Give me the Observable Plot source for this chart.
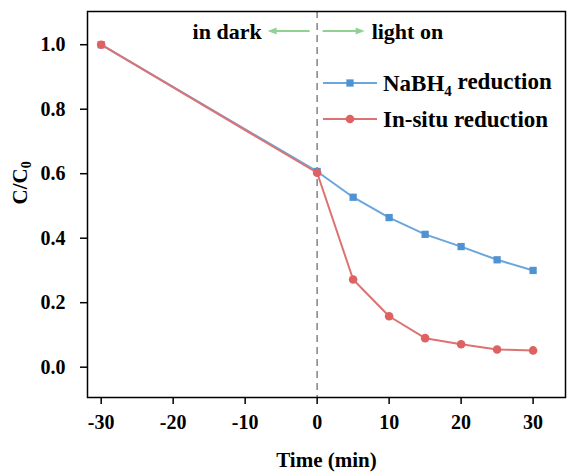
<!DOCTYPE html>
<html>
<head>
<meta charset="utf-8">
<script src="https://cdn.jsdelivr.net/npm/d3@7"></script>
<script src="https://cdn.jsdelivr.net/npm/@observablehq/plot@0.6"></script>
<style>
  html, body { margin: 0; padding: 0; background: #fff; }
  #chart { width: 568px; height: 473px; }
</style>
</head>
<body>
<div id="chart"></div>
<script>
// ---- data ----
const time = [-30, 0, 5, 10, 15, 20, 25, 30];
const nabh4 = [1.0, 0.607, 0.527, 0.464, 0.412, 0.374, 0.333, 0.300];
const insitu = [1.0, 0.603, 0.272, 0.158, 0.090, 0.071, 0.055, 0.052];
const seriesNames = ["NaBH4 reduction", "In-situ reduction"];
const xTicks = [-30, -20, -10, 0, 10, 20, 30];
const yTicks = [0.0, 0.2, 0.4, 0.6, 0.8, 1.0];
const lightSwitch = [0];

const blue = "#4f93d2", blueLine = "#6ba6db";
const red = "#de6262", redLine = "#dc7373";
const green = "#92d192";
const serif = "'Liberation Serif', 'Times New Roman', serif";

const rowsA = time.map((t, i) => ({t, v: nabh4[i]}));
const rowsB = time.map((t, i) => ({t, v: insitu[i]}));

const plot = Plot.plot({
  width: 568, height: 473,
  marginLeft: 87, marginRight: 3, marginTop: 11, marginBottom: 76,
  style: {fontFamily: serif, fontWeight: "bold", fontSize: "20px", background: "#fff", color: "#000"},
  x: {domain: [-31.9, 34.5]},
  y: {domain: [-0.094, 1.103]},
  marks: [
    Plot.ruleX(lightSwitch, {stroke: "#8a8a8a", strokeWidth: 1.6, strokeDasharray: "7,5"}),
    Plot.frame({stroke: "#000", strokeWidth: 1.5}),
    Plot.axisX({ticks: xTicks, tickSize: 7, tickPadding: 10, tickFormat: d => String(d), label: null, fontSize: 20, strokeWidth: 1.5}),
    Plot.axisY({ticks: yTicks, tickSize: 7, tickPadding: 15, tickFormat: d3.format(".1f"), label: null, fontSize: 20, strokeWidth: 1.5}),
    Plot.text(["Time (min)"], {frameAnchor: "bottom", dy: 69, fontSize: 21, fontWeight: "bold"}),
    Plot.text(["C/C0"], {frameAnchor: "left", dx: -67, rotate: -90, fontSize: 21, fontWeight: "bold"}),
    Plot.line(rowsA, {x: "t", y: "v", stroke: blueLine, strokeWidth: 2}),
    Plot.dot(rowsA, {x: "t", y: "v", symbol: "square", r: 4.1, fill: blue, stroke: "none"}),
    Plot.line(rowsB, {x: "t", y: "v", stroke: redLine, strokeWidth: 2}),
    Plot.dot(rowsB, {x: "t", y: "v", symbol: "circle", r: 4.3, fill: red, stroke: "none"})
  ]
});

document.getElementById("chart").appendChild(plot);

const svg = d3.select(plot);
// subscripts
svg.selectAll("text").each(function() {
  const t = d3.select(this);
  if (this.textContent === "C/C0") {
    t.text("C/C");
    t.append("tspan").attr("font-size", 14).attr("dy", "0.3em").text("0");
  }
});

const xs = plot.scale("x");
const x0 = xs.apply(lightSwitch[0]);

// annotation
const ann = svg.append("g").attr("font-family", serif).attr("font-weight", "bold").attr("font-size", 22);
ann.append("text").attr("x", x0 - 55).attr("y", 39).attr("text-anchor", "end").text("in dark");
ann.append("text").attr("x", x0 + 55).attr("y", 39).attr("text-anchor", "start").text("light on");
function arrow(xa, xb, y) {
  const dir = Math.sign(xb - xa);
  ann.append("line").attr("x1", xa).attr("x2", xb - dir * 6).attr("y1", y).attr("y2", y)
    .attr("stroke", green).attr("stroke-width", 2);
  ann.append("path")
    .attr("d", `M${xb},${y} L${xb - dir * 9},${y - 3.5} L${xb - dir * 9},${y + 3.5} Z`)
    .attr("fill", green);
}
arrow(x0 - 7, x0 - 49, 31);
arrow(x0 + 6, x0 + 48, 31);

// legend
const leg = svg.append("g").attr("font-family", serif).attr("font-weight", "bold").attr("font-size", 23).attr("text-anchor", "start");
const legendRows = [
  {name: seriesNames[0], line: blueLine, fill: blue, sym: d3.symbolSquare, r: 4.1},
  {name: seriesNames[1], line: redLine, fill: red, sym: d3.symbolCircle, r: 4.3}
];
legendRows.forEach((d, i) => {
  const y = 83 + i * 36;
  leg.append("line").attr("x1", 323).attr("x2", 377).attr("y1", y).attr("y2", y)
    .attr("stroke", d.line).attr("stroke-width", 2);
  leg.append("path").attr("transform", `translate(350,${y})`)
    .attr("d", d3.symbol(d.sym, d.r * d.r * Math.PI)()).attr("fill", d.fill);
  const t = leg.append("text").attr("x", 383).attr("y", y + 8).attr("text-anchor", "start");
  if (d.name.startsWith("NaBH4")) {
    t.text("NaBH");
    t.append("tspan").attr("font-size", 15).attr("dy", "0.3em").text("4");
    t.append("tspan").attr("dy", "-0.3em").text(" reduction");
  } else {
    t.text(d.name);
  }
});
</script>
</body>
</html>
